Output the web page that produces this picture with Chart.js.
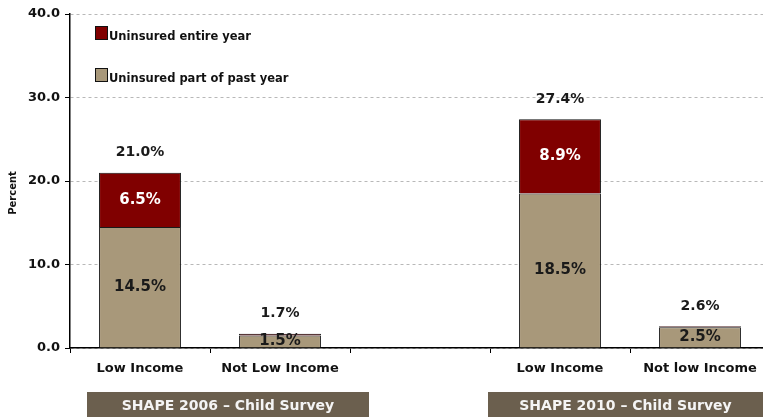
<!DOCTYPE html>
<html>
<head>
<meta charset="utf-8">
<script src="https://cdn.jsdelivr.net/npm/chart.js@4"></script>
<style>
  html, body { margin: 0; padding: 0; background: #fff; overflow: hidden; }
  #wrap { width: 770px; height: 417px; }
</style>
</head>
<body>
<div id="wrap"><canvas id="chart"></canvas></div>
<script>
// Categories (empty slot separates the two survey years)
const categories = ['Low Income', 'Not Low Income', '', 'Low Income', 'Not low Income'];
// Uninsured part of past year (bottom segment)
const partYear = [14.5, 1.5, null, 18.5, 2.5];
// Uninsured entire year (top segment)
const entireYear = [6.5, 0.2, null, 8.9, 0.1];
// Totals printed above each bar
const totals = [21.0, 1.7, null, 27.4, 2.6];
// Which segment values get printed inside the bar
const showPartLabel = [true, true, false, true, true];
const showEntireLabel = [true, false, false, true, false];
const yTicks = [0, 10, 20, 30, 40];
const groups = [
  { text: 'SHAPE 2006 \u2013 Child Survey', x1: 87, x2: 369 },
  { text: 'SHAPE 2010 \u2013 Child Survey', x1: 488, x2: 770 }
];

const FONT = '"DejaVu Sans", Verdana, sans-serif';
const TAN = '#a8987a';
const RED = '#800000';

// Value labels on and above the stacked bars
const barLabels = {
  id: 'barLabels',
  afterDatasetsDraw(chart) {
    const ctx = chart.ctx;
    const part = chart.getDatasetMeta(0).data;
    const entire = chart.getDatasetMeta(1).data;
    ctx.save();
    ctx.textAlign = 'center';
    ctx.textBaseline = 'middle';
    categories.forEach((c, i) => {
      if (totals[i] == null) return;
      const p = part[i], e = entire[i];
      ctx.font = 'bold 15px ' + FONT;
      if (showPartLabel[i]) {
        ctx.fillStyle = '#1a1a1a';
        ctx.fillText(partYear[i].toFixed(1) + '%', p.x, (p.y + p.base) / 2);
      }
      if (showEntireLabel[i]) {
        ctx.fillStyle = '#ffffff';
        ctx.fillText(entireYear[i].toFixed(1) + '%', e.x, (e.y + e.base) / 2);
      }
      ctx.font = 'bold 14px ' + FONT;
      ctx.fillStyle = '#1a1a1a';
      ctx.fillText(totals[i].toFixed(1) + '%', e.x, e.y - 20);
    });
    ctx.restore();
  }
};

// Legend inside the plot, axis caption and the survey-year boxes
const decorations = {
  id: 'decorations',
  afterDraw(chart) {
    const ctx = chart.ctx;
    ctx.save();
    // legend
    const items = [chart.data.datasets[1], chart.data.datasets[0]];
    items.forEach((ds, k) => {
      const y = 26 + k * 42;
      ctx.fillStyle = ds.backgroundColor;
      ctx.fillRect(95, y, 13, 14);
      ctx.strokeStyle = '#111';
      ctx.lineWidth = 1;
      ctx.strokeRect(95.5, y + 0.5, 12, 13);
      ctx.fillStyle = '#111';
      ctx.font = 'bold 11.5px ' + FONT;
      ctx.textAlign = 'left';
      ctx.textBaseline = 'middle';
      ctx.fillText(ds.label, 109, y + 11);
    });
    // y caption
    ctx.save();
    ctx.translate(13, 193);
    ctx.rotate(-Math.PI / 2);
    ctx.font = 'bold 10px ' + FONT;
    ctx.textAlign = 'center';
    ctx.textBaseline = 'middle';
    ctx.fillStyle = '#111';
    ctx.fillText('Percent', 0, 0);
    ctx.restore();
    // group boxes
    groups.forEach(g => {
      ctx.fillStyle = '#6b5f4e';
      ctx.fillRect(g.x1, 392, g.x2 - g.x1, 25);
      ctx.fillStyle = '#f4f4f4';
      ctx.font = 'bold 14px ' + FONT;
      ctx.textAlign = 'center';
      ctx.textBaseline = 'middle';
      const cx = Math.min((g.x1 + g.x2) / 2, (g.x1 + 763) / 2);
      ctx.fillText(g.text, cx, 406);
    });
    ctx.restore();
  }
};

new Chart(document.getElementById('chart'), {
  type: 'bar',
  data: {
    labels: categories,
    datasets: [
      {
        label: 'Uninsured part of past year',
        data: partYear,
        backgroundColor: TAN,
        borderColor: '#1a1a1a',
        borderWidth: 1
      },
      {
        label: 'Uninsured entire year',
        data: entireYear,
        backgroundColor: RED,
        borderColor: '#111',
        borderWidth: 1
      }
    ]
  },
  options: {
    responsive: true,
    maintainAspectRatio: false,
    animation: false,
    barPercentage: 0.585,
    categoryPercentage: 1,
    layout: { padding: { top: 14, right: 0, bottom: 0, left: 0 } },
    plugins: {
      legend: { display: false },
      tooltip: { enabled: false }
    },
    scales: {
      x: {
        stacked: true,
        offset: true,
        grid: {
          display: true,
          offset: true,
          drawOnChartArea: false,
          drawTicks: true,
          tickLength: 5,
          tickColor: '#000'
        },
        border: { display: true, color: '#000', width: 1.5 },
        ticks: {
          color: '#111',
          padding: 8,
          font: { family: FONT, size: 13, weight: 'bold' },
          maxRotation: 0,
          autoSkip: false
        },
        afterFit(scale) { scale.height = 69; }
      },
      y: {
        stacked: true,
        min: 0,
        max: 40,
        afterBuildTicks(scale) { scale.ticks = yTicks.map(v => ({ value: v })); },
        grid: {
          color: '#b8b8b8',
          tickColor: '#000',
          tickLength: 5,
          lineWidth: 1
        },
        border: { display: true, color: '#000', width: 1.5, dash: [3, 3] },
        ticks: {
          color: '#111',
          padding: 5,
          font: { family: FONT, size: 13, weight: 'bold' },
          callback: v => Number(v).toFixed(1)
        },
        afterFit(scale) { scale.width = 70; }
      }
    }
  },
  plugins: [barLabels, decorations]
});
</script>
</body>
</html>
